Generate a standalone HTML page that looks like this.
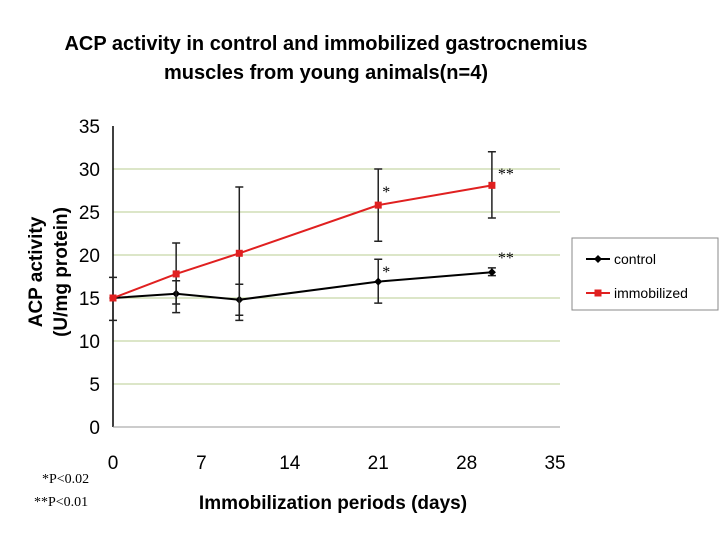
<!DOCTYPE html>
<html><head><meta charset="utf-8"><style>
body{margin:0;background:#fff;width:720px;height:540px;overflow:hidden;font-family:"Liberation Sans",sans-serif}
</style></head><body>
<svg width="720" height="540">
<text x="326" y="50" text-anchor="middle" font-size="20" font-weight="bold" transform="scale(1,1)">ACP activity in control and immobilized gastrocnemius</text>
<text x="326" y="79" text-anchor="middle" font-size="20" font-weight="bold">muscles from young animals(n=4)</text>
<g id="grid"></g><g id="axes"></g><g id="series"></g>
<text transform="translate(42,272) rotate(-90)" text-anchor="middle" font-size="19" font-weight="bold">ACP activity</text>
<text transform="translate(67,272) rotate(-90)" text-anchor="middle" font-size="19" font-weight="bold">(U/mg protein)</text>
<text x="333" y="509" text-anchor="middle" font-size="19" font-weight="bold">Immobilization periods (days)</text>
<text x="42" y="483" font-size="14" font-family="Liberation Serif,serif">*P&lt;0.02</text>
<text x="34" y="506" font-size="14" font-family="Liberation Serif,serif">**P&lt;0.01</text>
<g>
<rect x="572" y="238" width="146" height="72" fill="#fff" stroke="#888"/>
<line x1="586" y1="259" x2="610" y2="259" stroke="#000" stroke-width="2"/>
<path d="M598 255 L602 259 L598 263 L594 259Z" fill="#000"/>
<text x="614" y="264" font-size="14">control</text>
<line x1="586" y1="293" x2="610" y2="293" stroke="#e02020" stroke-width="2"/>
<rect x="594.5" y="289.5" width="7" height="7" fill="#e02020"/>
<text x="614" y="298" font-size="14">immobilized</text>
</g>
</svg>
<script>
const days=[0,5,10,21,30];
const control=[15,15.5,14.8,16.9,18.0];
const controlLo=[12.4,14.3,13.0,14.4,17.6];
const controlHi=[17.4,17.0,16.6,19.5,18.5];
const immob=[15,17.8,20.2,25.8,28.1];
const immobLo=[15,13.3,12.4,21.6,24.3];
const immobHi=[15,21.4,27.9,30,32];
const xTicks=[0,7,14,21,28,35];
const yTicks=[0,5,10,15,20,25,30,35];
const NS='http://www.w3.org/2000/svg';
const X=d=>113+d*12.63, Y=v=>427-v*8.6;
function mk(t,a,p){const e=document.createElementNS(NS,t);for(const k in a)e.setAttribute(k,a[k]);p.appendChild(e);return e;}
const g=document.getElementById('grid'),ax=document.getElementById('axes'),s=document.getElementById('series');
yTicks.forEach(v=>{
 if(v>0&&v<35){const l=mk('line',{x1:113,x2:560,y1:Y(v),y2:Y(v),stroke:'#c8d8a8','stroke-width':1.2},g);
 
 }
 const t=mk('text',{x:100,y:Y(v)+7,'text-anchor':'end','font-size':19},ax);t.textContent=v;
 
 
});
xTicks.forEach(d=>{const t=mk('text',{x:X(d),y:469,'text-anchor':'middle','font-size':19},ax);t.textContent=d;
 
 });
const ya=mk('line',{x1:113,x2:113,y1:Y(35),y2:Y(0),stroke:'#000','stroke-width':1.5},ax);


const xa=mk('line',{x1:113,x2:560,y1:Y(0),y2:Y(0),stroke:'#999','stroke-width':1},ax);


function series(vals,lo,hi,col,name){
 days.forEach((d,i)=>{if(hi[i]!==lo[i]){
  const e=mk('path',{d:`M${X(d)} ${Y(hi[i])}V${Y(lo[i])}M${X(d)-4} ${Y(hi[i])}h8M${X(d)-4} ${Y(lo[i])}h8`,stroke:'#222','stroke-width':1.5,fill:'none'},s);
  
  }});
 const p=mk('polyline',{points:days.map((d,i)=>X(d)+','+Y(vals[i])).join(' '),fill:'none',stroke:col,'stroke-width':2},s);
 
 
 days.forEach((d,i)=>{let m;
  if(name==='immobilized')m=mk('rect',{x:X(d)-3.5,y:Y(vals[i])-3.5,width:7,height:7,fill:col},s);
  else m=mk('path',{d:`M${X(d)} ${Y(vals[i])-4}l4 4l-4 4l-4-4z`,fill:col},s);
  
  });
}
series(control,controlLo,controlHi,'#000','control');
series(immob,immobLo,immobHi,'#e02020','immobilized');
[[X(21)+4,Y(30)+28,'*'],[X(30)+6,Y(30)+10,'**'],[X(21)+4,Y(20)+22,'*'],[X(30)+6,Y(20)+8,'**']].forEach(a=>{
 const t=mk('text',{x:a[0],y:a[1],'font-size':16,'font-family':'Liberation Serif,serif'},s);t.textContent=a[2];
 
 });
</script>
</body></html>
